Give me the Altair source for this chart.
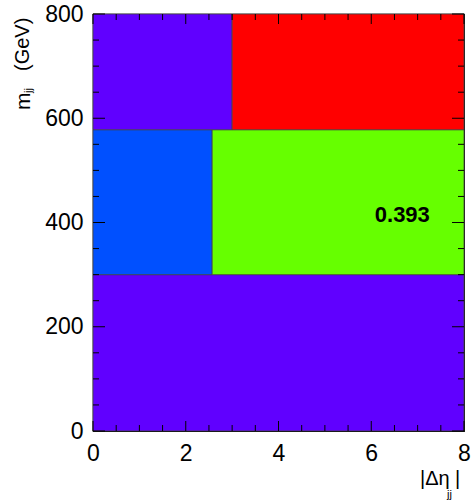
import altair as alt
import pandas as pd

# cells of the 2D binning (|Δη_jj| vs m_jj)
x_lo = [0.0, 0.0, 2.57, 0.0, 3.0]
x_hi = [8.0, 2.57, 8.0, 3.0, 8.0]
y_lo = [0, 300, 300, 578, 578]
y_hi = [300, 578, 578, 800, 800]
cell_colors = ["#6000FF", "#0050FF", "#66FF00", "#6000FF", "#FF0000"]

# annotation
ann_x = [6.67]
ann_y = [414]
ann_text = ["0.393"]

# ticks
x_major = [0, 2, 4, 6, 8]
x_minor = [0.5, 1, 1.5, 2.5, 3, 3.5, 4.5, 5, 5.5, 6.5, 7, 7.5]
y_major = [0, 200, 400, 600, 800]
y_minor = [50, 100, 150, 250, 300, 350, 450, 500, 550, 650, 700, 750]

W, H = 371, 417
FONT = "Liberation Sans"

cells = pd.DataFrame({"x": x_lo, "x2": x_hi, "y": y_lo, "y2": y_hi, "c": cell_colors})
xs = alt.Scale(domain=[0, 8], nice=False, zero=False)
ys = alt.Scale(domain=[0, 800], nice=False, zero=False)

xaxis = alt.Axis(values=x_major, ticks=False, domain=False, grid=False, labelFontSize=23,
                 labelFont=FONT, labelColor="black", labelPadding=11, title=None, labelFlush=False)
yaxis = alt.Axis(values=y_major, ticks=False, domain=False, grid=False, labelFontSize=23,
                 labelFont=FONT, labelColor="black", labelPadding=10, title=None)

rects = alt.Chart(cells).mark_rect(stroke="#444", strokeWidth=0.8).encode(
    x=alt.X("x:Q", scale=xs, axis=xaxis),
    x2="x2:Q",
    y=alt.Y("y:Q", scale=ys, axis=yaxis),
    y2="y2:Q",
    color=alt.Color("c:N", scale=None),
)

ann = alt.Chart(pd.DataFrame({"x": ann_x, "y": ann_y, "t": ann_text})).mark_text(
    font=FONT, fontSize=22, fontWeight="bold", color="black"
).encode(x=alt.X("x:Q", scale=xs), y=alt.Y("y:Q", scale=ys), text="t:N")


def ticks(vals, axis, length):
    d = pd.DataFrame({"v": vals})
    if axis == "x":
        bot = alt.Chart(d).mark_rule(color="black", strokeWidth=1).encode(
            x=alt.X("v:Q", scale=xs), y=alt.value(H), y2=alt.value(H - length))
        top = alt.Chart(d).mark_rule(color="black", strokeWidth=1).encode(
            x=alt.X("v:Q", scale=xs), y=alt.value(0), y2=alt.value(length))
        return [bot, top]
    left = alt.Chart(d).mark_rule(color="black", strokeWidth=1).encode(
        y=alt.Y("v:Q", scale=ys), x=alt.value(0), x2=alt.value(length))
    right = alt.Chart(d).mark_rule(color="black", strokeWidth=1).encode(
        y=alt.Y("v:Q", scale=ys), x=alt.value(W), x2=alt.value(W - length))
    return [left, right]


tick_layers = (ticks(x_major, "x", 10) + ticks(x_minor, "x", 6)
               + ticks(y_major, "y", 12) + ticks(y_minor, "y", 6))

one = pd.DataFrame({"a": [0]})


def label(text, x, y, size, angle=0, align="left"):
    return alt.Chart(one).mark_text(
        text=text, font=FONT, fontSize=size, color="black", angle=angle,
        align=align, baseline="alphabetic"
    ).encode(x=alt.value(x), y=alt.value(y))


titles = [
    label("m", -63, 96, 21, angle=270),
    label("jj", -61, 79, 11, angle=270),
    label("(GeV)", -64, 57, 20, angle=270),
    label("|Δη", 327, 471, 20),
    label("jj", 354, 484, 11),
    label("|", 362, 471, 20),
]

chart = alt.layer(rects, ann, *tick_layers, *titles).properties(
    width=W, height=H,
    autosize=alt.AutoSizeParams(type="none"),
    padding={"left": 93, "top": 14, "right": 7, "bottom": 71},
).configure_view(stroke="black", strokeWidth=1.2)

chart.save("out.html", embed_options={"renderer": "svg", "actions": False})
